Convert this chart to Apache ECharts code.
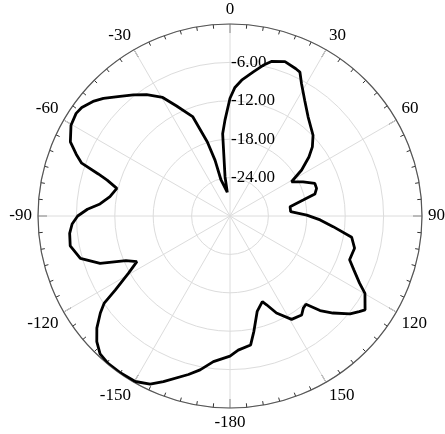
<!DOCTYPE html>
<html>
<head>
<meta charset="utf-8">
<script src="https://cdn.jsdelivr.net/npm/echarts@6/dist/echarts.min.js"></script>
<style>
  html, body { margin: 0; padding: 0; background: #fff; }
  #chart { width: 445px; height: 434px; }
</style>
</head>
<body>
<div id="chart"></div>
<script>
// Radiation pattern: azimuth (deg, -180..180) and gain (dB), traced clockwise
const azimuthDeg = [-6.5, -7.2, -5.1, -3.0, 0, 2.2, 4.9, 9.2, 12.4, 15.0, 19.6, 24.1, 25.9, 28.4, 32.9, 38.3,
  45.8, 50.0, 53.2, 57.3, 60.9, 64.9, 69.0, 72.3, 75.5, 77.7, 81.2, 85.9, 89.3, 92.5, 95.9, 99.9, 104.5,
  110.1, 113.5, 117.4, 119.8, 124.8, 126.5, 129.2, 133.3, 136.4, 139.3, 141.5, 144.1, 149.2, 154.4, 157.6,
  159.3, 164.1, 168.3, 170.9, 176.5, 180, -173.5, -169.0, -165.3, -158.1, -154.6, -150.2, -144.7, -140.4,
  -136.7, -133.3, -130.1, -126.8, -124.7, -122.8, -119.4, -116.1, -113.2, -110.0, -105.8, -100.6, -96.2,
  -92.9, -90, -87.3, -84.7, -80.8, -76.3, -73.7, -72.3, -70.4, -68.1, -65.1, -60.3, -56.3, -53.8, -50.1,
  -47.1, -42.6, -38.6, -34.5, -29.6, -25.9, -20.6, -17.0, -15.0, -14.0, -6.5];

const gainDb = [-26.3, -23.8, -17.1, -15.0, -11.6, -9.9, -8.7, -7.2, -5.9, -5.0, -4.4, -4.8, -5.0, -6.5, -8.5,
  -10.3, -11.9, -13.2, -14.6, -16.7, -19.0, -17.4, -15.8, -15.8, -16.3, -18.3, -20.5, -20.5, -18.0, -15.9,
  -13.8, -10.7, -9.9, -10.1, -8.9, -7.2, -5.7, -4.3, -4.9, -5.8, -7.9, -9.6, -11.8, -11.6, -10.9, -11.2,
  -13.2, -15.0, -15.7, -14.5, -11.6, -9.6, -9.0, -8.1, -7.1, -5.5, -4.4, -2.1, -0.9, -0.2, -0.1, -0.1,
  -0.4, -1.4, -2.8, -4.7, -6.1, -8.7, -11.8, -13.8, -12.3, -8.4, -5.7, -4.6, -4.8, -5.3, -6.2, -7.7, -9.6,
  -11.0, -11.8, -10.0, -8.4, -5.4, -4.1, -2.5, -1.4, -1.1, -1.3, -2.1, -3.0, -4.6, -5.8, -7.0, -8.7,
  -10.9, -13.4, -17.9, -21.0, -24.2, -26.3];

// Axis settings
const gainMin = -30, gainMax = 0, gainStep = 6;
const azimuthStep = 30;

// Angle axis runs 0..360 internally; labels show the signed azimuth
const seriesData = azimuthDeg.map((a, i) => [gainDb[i], a < 0 ? a + 360 : a]);

const serif = '"Liberation Serif", "Times New Roman", serif';

const chart = echarts.init(document.getElementById('chart'), null, { renderer: 'canvas' });
chart.setOption({
  animation: false,
  backgroundColor: '#ffffff',
  polar: { center: [230, 216], radius: 192 },
  angleAxis: {
    type: 'value',
    min: 0,
    max: 360,
    interval: azimuthStep,
    startAngle: 90,
    clockwise: true,
    axisLine: { show: true, lineStyle: { color: '#555', width: 1.2 } },
    axisTick: { show: true, inside: true, length: 9, lineStyle: { color: '#333', width: 1 } },
    minorTick: { show: true, splitNumber: 6, length: 4, lineStyle: { color: '#333', width: 1 } },
    axisLabel: {
      margin: 6,
      fontFamily: serif,
      fontSize: 17,
      color: '#000',
      formatter: v => (v === 360 ? '' : String(v >= 180 ? v - 360 : v))
    },
    splitLine: { show: true, lineStyle: { color: '#dcdcdc', width: 1 } }
  },
  radiusAxis: {
    type: 'value',
    min: gainMin,
    max: gainMax,
    interval: gainStep,
    axisLine: { show: false },
    axisTick: { show: false },
    axisLabel: {
      margin: -1,
      align: 'left',
      verticalAlign: 'middle',
      fontFamily: serif,
      fontSize: 17,
      color: '#000',
      formatter: v => (v === gainMin || v === gainMax ? '' : v.toFixed(2))
    },
    splitLine: { show: true, lineStyle: { color: '#dcdcdc', width: 1 } }
  },
  series: [{
    type: 'line',
    coordinateSystem: 'polar',
    data: seriesData,
    showSymbol: false,
    smooth: false,
    lineStyle: { color: '#000', width: 2.8 }
  }]
});
</script>
</body>
</html>
